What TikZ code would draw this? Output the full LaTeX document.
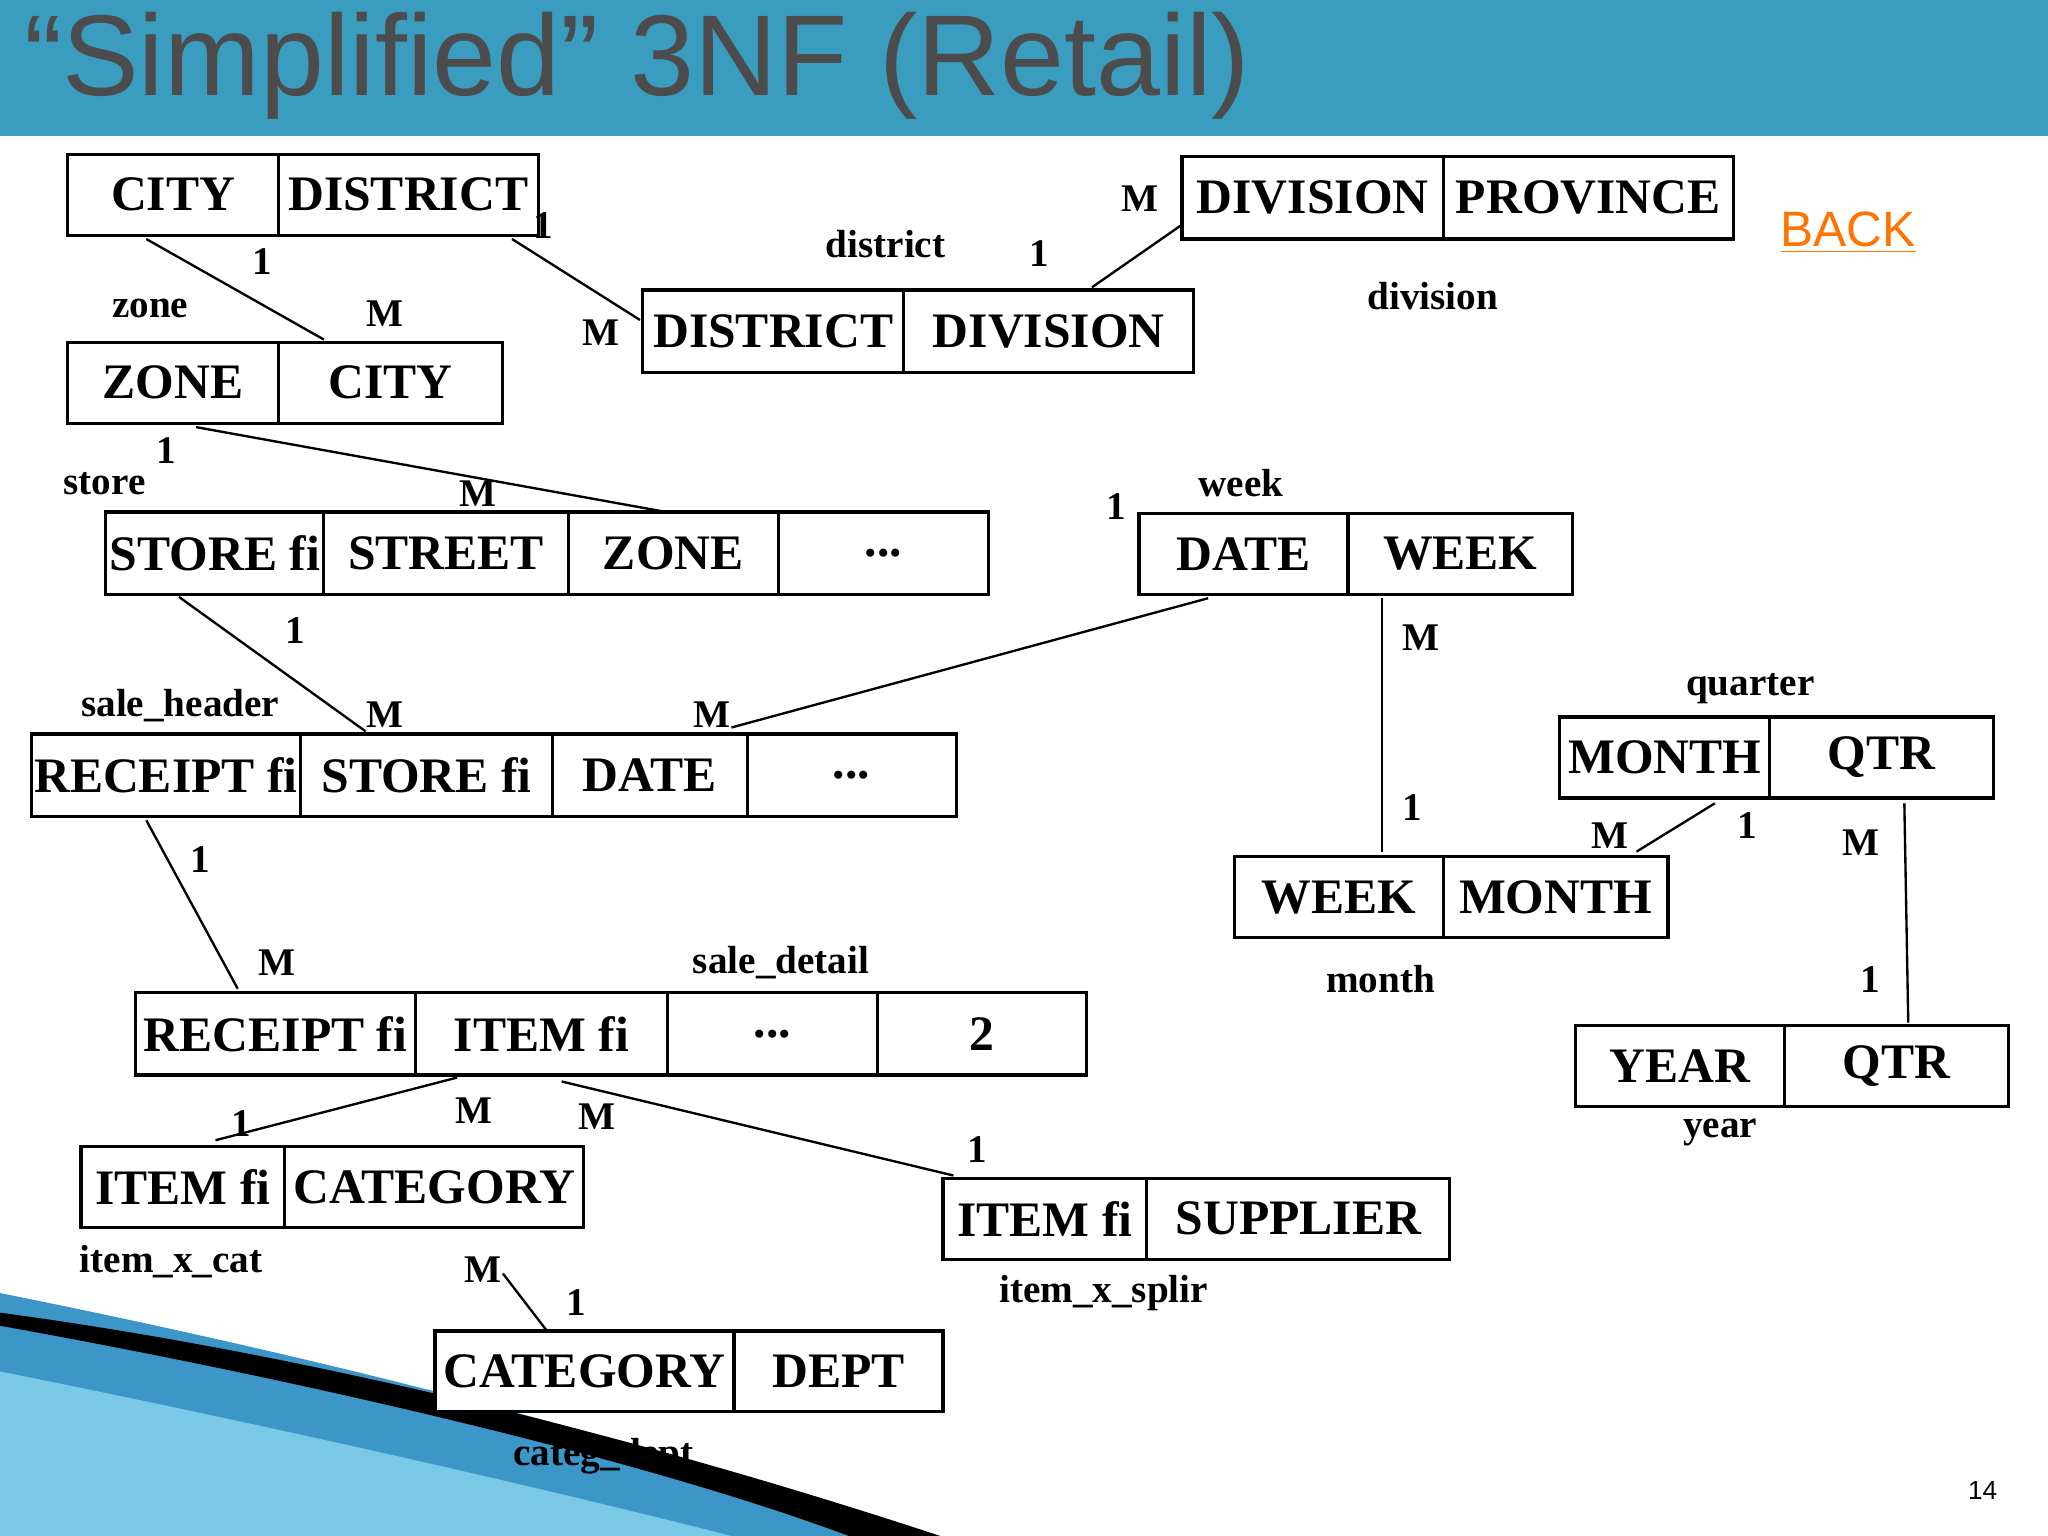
\documentclass[tikz,border=0pt]{standalone}
\usepackage{fontspec}
\setmainfont{Liberation Serif}
\newfontfamily\sansf{Liberation Sans}
\definecolor{barc}{RGB}{58,156,191}
\definecolor{swa}{RGB}{60,150,200}
\definecolor{swb}{RGB}{120,200,230}
\begin{document}
\begin{tikzpicture}[x=0.5pt,y=-0.5pt,
  cellbox/.style={draw=black,line width=1.2pt},
  celltext/.style={font=\fontsize{19}{22}\selectfont\bfseries,inner sep=0pt},
  lbl/.style={font=\fontsize{15}{18}\selectfont\bfseries,inner sep=0pt},
  conn/.style={draw=black,line width=0.9pt}]
\useasboundingbox (0,0) rectangle (1568,1176);
\fill[white] (0,0) rectangle (1568,1176);
% decorative swoosh
\fill[swa] (0,990) .. controls (300,1050) and (550,1120) .. (700,1176) -- (0,1176) -- cycle;
\fill[swb] (0,1050) .. controls (200,1090) and (420,1140) .. (560,1176) -- (0,1176) -- cycle;
\fill[black] (0,1015) .. controls (250,1060) and (500,1120) .. (650,1176) -- (720,1176) .. controls (520,1110) and (260,1040) .. (0,1005) -- cycle;
% title bar
\fill[barc] (0,0) rectangle (1568,104);
\node[anchor=west,font=\sansf\fontsize{44}{50}\selectfont,text=black!70,inner sep=0pt] (title) at (18,50) {“Simplified” 3NF (Retail)};
\newcommand\cel[6]{\fill[white] (#2,#3) rectangle (#4,#5); \draw[cellbox] (#2,#3) rectangle (#4,#5); \node[celltext] (#1) at ({(#2+#4)/2},{(#3+#5)/2}) {#6};}
% tables
\cel{cd1}{52}{118}{213}{180}{CITY}\cel{cd2}{213}{118}{412}{180}{DISTRICT}
\cel{dp1}{905}{120}{1105}{183}{DIVISION}\cel{dp2}{1105}{120}{1327}{183}{PROVINCE}
\cel{dd1}{492}{222}{692}{285}{DISTRICT}\cel{dd2}{692}{222}{914}{285}{DIVISION}
\cel{zc1}{52}{262}{213}{324}{ZONE}\cel{zc2}{213}{262}{385}{324}{CITY}
\cel{st1}{81}{392}{248}{455}{STORE fi}\cel{st2}{248}{392}{435}{455}{STREET}\cel{st3}{435}{392}{596}{455}{ZONE}\cel{st4}{596}{392}{757}{455}{...}
\cel{dw1}{872}{393}{1032}{455}{DATE}\cel{dw2}{1032}{393}{1204}{455}{WEEK}
\cel{sh1}{24}{562}{230}{625}{RECEIPT fi}\cel{sh2}{230}{562}{423}{625}{STORE fi}\cel{sh3}{423}{562}{572}{625}{DATE}\cel{sh4}{572}{562}{732}{625}{...}
\cel{mq1}{1194}{549}{1355}{611}{MONTH}\cel{mq2}{1355}{549}{1526}{611}{QTR}
\cel{wm1}{945}{656}{1105}{718}{WEEK}\cel{wm2}{1105}{656}{1277}{718}{MONTH}
\cel{sd1}{104}{760}{318}{823}{RECEIPT fi}\cel{sd2}{318}{760}{511}{823}{ITEM fi}\cel{sd3}{511}{760}{672}{823}{...}\cel{sd4}{672}{760}{832}{823}{2}
\cel{yq1}{1206}{785}{1366}{847}{YEAR}\cel{yq2}{1366}{785}{1538}{847}{QTR}
\cel{ic1}{62}{878}{218}{940}{ITEM fi}\cel{ic2}{218}{878}{447}{940}{CATEGORY}
\cel{is1}{722}{902}{878}{964}{ITEM fi}\cel{is2}{878}{902}{1110}{964}{SUPPLIER}
\cel{cdp1}{333}{1019}{562}{1081}{CATEGORY}\cel{cdp2}{562}{1019}{722}{1081}{DEPT}
% connector endpoints
\coordinate (a1) at (112,183); \coordinate (a2) at (248,260);
\coordinate (b1) at (392,183); \coordinate (b2) at (490,245);
\coordinate (c1) at (836,220); \coordinate (c2) at (905,172);
\coordinate (d1) at (150,327); \coordinate (d2) at (510,392);
\coordinate (e1) at (137,457); \coordinate (e2) at (280,560);
\coordinate (f1) at (925,458); \coordinate (f2) at (560,557);
\coordinate (g1) at (1058,458); \coordinate (g2) at (1058,652);
\coordinate (h1) at (1313,615); \coordinate (h2) at (1253,652);
\coordinate (i1) at (1458,615); \coordinate (i2) at (1461,783);
\coordinate (j1) at (112,628); \coordinate (j2) at (182,757);
\coordinate (k1) at (350,825); \coordinate (k2) at (165,873);
\coordinate (l1) at (430,828); \coordinate (l2) at (730,900);
\coordinate (m1) at (385,975); \coordinate (m2) at (418,1018);
\foreach \p in {a,b,c,d,e,f,g,h,i,j,k,l,m} \draw[conn] (\p1) -- (\p2);
% labels
\node[lbl] (n1) at (201,200) {1}; \node[lbl] (n2) at (295,240) {M}; \node[lbl] (n3) at (115,236) {zone};
\node[lbl] (n4) at (416,173) {1}; \node[lbl] (n5) at (460,255) {M}; \node[lbl] (n6) at (678,187) {district};
\node[lbl] (n7) at (796,194) {1}; \node[lbl] (n8) at (873,152) {M}; \node[lbl] (n9) at (1097,227) {division};
\node[lbl] (n10) at (127,345) {1}; \node[lbl] (n11) at (366,378) {M}; \node[lbl] (n12) at (80,370) {store};
\node[lbl] (n13) at (226,483) {1}; \node[lbl] (n14) at (295,547) {M}; \node[lbl] (n15) at (138,540) {sale\_header};
\node[lbl] (n16) at (855,388) {1}; \node[lbl] (n17) at (545,547) {M}; \node[lbl] (n18) at (950,370) {week};
\node[lbl] (n19) at (1088,488) {M}; \node[lbl] (n20) at (1081,618) {1};
\node[lbl] (n21) at (1338,632) {1}; \node[lbl] (n22) at (1233,640) {M}; \node[lbl] (n23) at (1340,527) {quarter};
\node[lbl] (n24) at (1425,645) {M}; \node[lbl] (n25) at (1432,750) {1};
\node[lbl] (n26) at (1057,750) {month}; \node[lbl] (n27) at (1317,867) {year};
\node[lbl] (n28) at (153,658) {1}; \node[lbl] (n29) at (212,737) {M}; \node[lbl] (n30) at (598,737) {sale\_detail};
\node[lbl] (n31) at (185,860) {1}; \node[lbl] (n32) at (363,850) {M};
\node[lbl] (n33) at (457,855) {M}; \node[lbl] (n34) at (748,880) {1};
\node[lbl] (n35) at (370,972) {M}; \node[lbl] (n36) at (441,997) {1};
\node[lbl] (n37) at (131,966) {item\_x\_cat}; \node[lbl] (n38) at (845,990) {item\_x\_splir};
\node[lbl] (n39) at (462,1115) {categ\_dept};
\node[font=\sansf\fontsize{19}{22}\selectfont,text=orange!90!red,inner sep=0pt] (back) at (1415,178) {\underline{BACK}};
\node[font=\sansf\fontsize{10}{12}\selectfont,inner sep=0pt] (pg) at (1518,1141) {14};
\end{tikzpicture}
\end{document}
